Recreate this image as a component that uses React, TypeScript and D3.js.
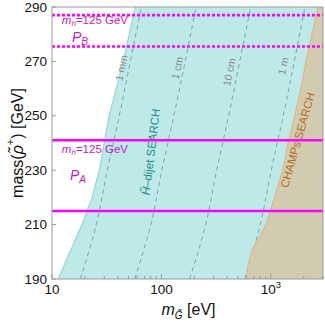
import React, { useEffect, useRef } from "react";
import * as d3 from "d3";

const W = 325;
const H = 323;
const margin = { left: 52, top: 7, right: 2, bottom: 44 };

// left edge of the H~-dijet excluded region
const cyanEdgeMass = [190, 200, 210, 220, 230, 240, 250, 260, 270, 280, 290];
const cyanEdgeGravitino = [11.4, 14.6, 18.8, 23.3, 27.0, 30.0, 33.3, 38.6, 44.8, 50.8, 57.7];

// left edge of the CHAMPs excluded region
const champsEdgeMass = [190, 200, 210, 220, 230, 240, 250, 260, 270, 280, 290];
const champsEdgeGravitino = [590, 670, 900, 1080, 1280, 1440, 1650, 1880, 2100, 2380, 2700];

// decay length contours
const contourMass = [190, 210, 230, 250, 270, 290];
const contourNames = ["1 mm", "1 cm", "10 cm", "1 m"];
const contour1mm = [18.1, 25.4, 32.0, 41.2, 52.0, 65.6];
const contour1cm = [57, 80, 101, 130, 165, 207];
const contour10cm = [181, 254, 320, 412, 520, 655];
const contour1m = [575, 800, 1010, 1300, 1640, 2050];
const contourLabelAt = [
  [42.8, 267.6],
  [139, 267.6],
  [415, 266.1],
  [1291, 268.3],
];

// m_h = 125 GeV lines
const pALines = [241, 215];
const pBLines = [287, 275.5];

const yTicks = [190, 210, 230, 250, 270, 290];
const xMajor = [10, 100, 1000];

export default function App() {
  const ref = useRef<SVGSVGElement>(null);

  useEffect(() => {
    const svg = d3.select(ref.current);
    svg.selectAll("*").remove();

    const x = d3.scaleLog().domain([10, 3000]).range([margin.left, W - margin.right]);
    const y = d3.scaleLinear().domain([190, 290]).range([H - margin.bottom, margin.top]);
    const [x0, x1] = x.range();
    const [y0, y1] = y.range();

    svg.append("defs").append("clipPath").attr("id", "plot")
      .append("rect").attr("x", x0).attr("y", y1).attr("width", x1 - x0).attr("height", y0 - y1);

    const g = svg.append("g").attr("clip-path", "url(#plot)");

    // cyan region
    const cyanPts = cyanEdgeMass.map((m, i) => [cyanEdgeGravitino[i], m]);
    const cyanPoly = [...cyanPts, [3000, 290], [3000, 190]];
    g.append("path")
      .attr("d", d3.line<number[]>().x(d => x(d[0])).y(d => y(d[1]))(cyanPoly) + "Z")
      .attr("fill", "#bde9e8");
    g.append("path")
      .attr("d", d3.line<number[]>().x(d => x(d[0])).y(d => y(d[1]))(cyanPts))
      .attr("fill", "none").attr("stroke", "#8fdada").attr("stroke-width", 1.2);

    // decay length contours
    const contours = [contour1mm, contour1cm, contour10cm, contour1m];
    const line = d3.line<number>().x(d => x(d)).y((d, i) => y(contourMass[i])).curve(d3.curveMonotoneY);
    contours.forEach(c => {
      g.append("path").attr("d", line(c))
        .attr("fill", "none").attr("stroke", "#7a9c9c").attr("stroke-width", 0.9)
        .attr("stroke-dasharray", "4.5,3.5");
    });

    // CHAMPs region
    const champPts = champsEdgeMass.map((m, i) => [champsEdgeGravitino[i], m]);
    const champPoly = [...champPts, [3000, 290], [3000, 190]];
    g.append("path")
      .attr("d", d3.line<number[]>().x(d => x(d[0])).y(d => y(d[1]))(champPoly) + "Z")
      .attr("fill", "#d1ccb0");
    g.append("path")
      .attr("d", d3.line<number[]>().x(d => x(d[0])).y(d => y(d[1])).curve(d3.curveMonotoneY)(champPts))
      .attr("fill", "none").attr("stroke", "#edb37a").attr("stroke-width", 1.2);

    // contour labels
    contourNames.forEach((t, i) => {
      const [mx, my] = contourLabelAt[i];
      g.append("text")
        .attr("transform", `translate(${x(mx)},${y(my)}) rotate(-78)`)
        .attr("text-anchor", "middle").attr("dominant-baseline", "central")
        .attr("font-family", "Liberation Sans, Arial, sans-serif").attr("font-size", 10.5)
        .attr("fill", "#8a8a8a").text(t);
    });

    // region labels
    const hl = g.append("text")
      .attr("transform", `translate(${x(80)},${y(236.7)}) rotate(-83)`)
      .attr("text-anchor", "middle").attr("dominant-baseline", "central")
      .attr("font-family", "Liberation Sans, Arial, sans-serif").attr("font-size", 11.5)
      .attr("fill", "#1d8a88");
    hl.append("tspan").attr("font-style", "italic").text("H\u0303");
    hl.append("tspan").text("\u2013dijet SEARCH");

    g.append("text")
      .attr("transform", `translate(${x(1760)},${y(241.1)}) rotate(-74)`)
      .attr("text-anchor", "middle").attr("dominant-baseline", "central")
      .attr("font-family", "Liberation Sans, Arial, sans-serif").attr("font-size", 11.5)
      .attr("fill", "#b86a20").text("CHAMPs SEARCH");

    // magenta lines
    pALines.forEach(v => {
      g.append("line").attr("x1", x0).attr("x2", x1).attr("y1", y(v)).attr("y2", y(v))
        .attr("stroke", "#ff00ff").attr("stroke-width", 2.4);
    });
    pBLines.forEach(v => {
      g.append("line").attr("x1", x0).attr("x2", x1).attr("y1", y(v)).attr("y2", y(v))
        .attr("stroke", "#ff00ff").attr("stroke-width", 2.6).attr("stroke-dasharray", "3,2");
    });

    const mhLabel = (mx: number, my: number) => {
      const t = g.append("text").attr("x", x(mx)).attr("y", y(my))
        .attr("font-family", "Liberation Sans, Arial, sans-serif").attr("font-size", 11.5)
        .attr("fill", "#c31bc3");
      t.append("tspan").attr("font-style", "italic").text("m");
      t.append("tspan").attr("font-style", "italic").attr("font-size", 8).attr("dy", 2).text("h");
      t.append("tspan").attr("dy", -2).text("=125 GeV");
    };
    const pLabel = (mx: number, my: number, sub: string) => {
      const t = g.append("text").attr("x", x(mx)).attr("y", y(my))
        .attr("font-family", "Liberation Sans, Arial, sans-serif").attr("font-size", 14)
        .attr("fill", "#c31bc3");
      t.append("tspan").attr("font-style", "italic").text("P");
      t.append("tspan").attr("font-style", "italic").attr("font-size", 10).attr("dy", 3.5).text(sub);
    };
    mhLabel(12.3, 283.8);
    pLabel(15.2, 277.2, "B");
    mhLabel(12.3, 236.3);
    pLabel(14.6, 226.4, "A");

    // frame
    svg.append("rect").attr("x", x0).attr("y", y1).attr("width", x1 - x0).attr("height", y0 - y1)
      .attr("fill", "none").attr("stroke", "#9a9a9a").attr("stroke-width", 1);

    const font = "Liberation Sans, Arial, sans-serif";

    // y ticks
    yTicks.forEach(v => {
      svg.append("line").attr("x1", x0).attr("x2", x0 + 4).attr("y1", y(v)).attr("y2", y(v))
        .attr("stroke", "#9a9a9a");
      svg.append("text").attr("x", x0 - 5).attr("y", y(v)).attr("text-anchor", "end")
        .attr("dominant-baseline", "central").attr("font-family", font).attr("font-size", 13.5)
        .attr("fill", "#111").text(v);
    });

    // x ticks
    x.ticks().forEach(v => {
      const major = xMajor.includes(v);
      svg.append("line").attr("x1", x(v)).attr("x2", x(v)).attr("y1", y0).attr("y2", y0 - (major ? 5 : 3))
        .attr("stroke", "#9a9a9a");
    });
    const tl = (v: number) =>
      svg.append("text").attr("x", x(v)).attr("y", y0 + 15).attr("text-anchor", "middle")
        .attr("font-family", font).attr("font-size", 13.5).attr("fill", "#111");
    tl(10).text("10");
    tl(100).text("100");
    const t3 = tl(1000);
    t3.append("tspan").text("10");
    t3.append("tspan").attr("font-size", 9.5).attr("dy", -6).text("3");

    // axis titles
    const yt = svg.append("text")
      .attr("transform", `translate(${17},${(y0 + y1) / 2}) rotate(-90)`)
      .attr("text-anchor", "middle").attr("dominant-baseline", "central")
      .attr("font-family", font).attr("font-size", 16).attr("fill", "#111");
    yt.append("tspan").text("mass(");
    yt.append("tspan").attr("font-style", "italic").text("\u03c1\u0303");
    yt.append("tspan").attr("font-size", 11).attr("dy", -7).text("+");
    yt.append("tspan").attr("dy", 7).text(") [GeV]");

    const xt = svg.append("text")
      .attr("x", (x0 + x1) / 2 + 1).attr("y", y0 + 36).attr("text-anchor", "middle")
      .attr("font-family", font).attr("font-size", 16).attr("fill", "#111");
    xt.append("tspan").attr("font-style", "italic").text("m");
    xt.append("tspan").attr("font-style", "italic").attr("font-size", 10).attr("dy", 4).text("G\u0303");
    xt.append("tspan").attr("dy", -4).text(" [eV]");
  }, []);

  return (
    <svg
      ref={ref}
      width={W}
      height={H}
      style={{ position: "absolute", left: 0, top: 0, background: "#fff" }}
    />
  );
}
